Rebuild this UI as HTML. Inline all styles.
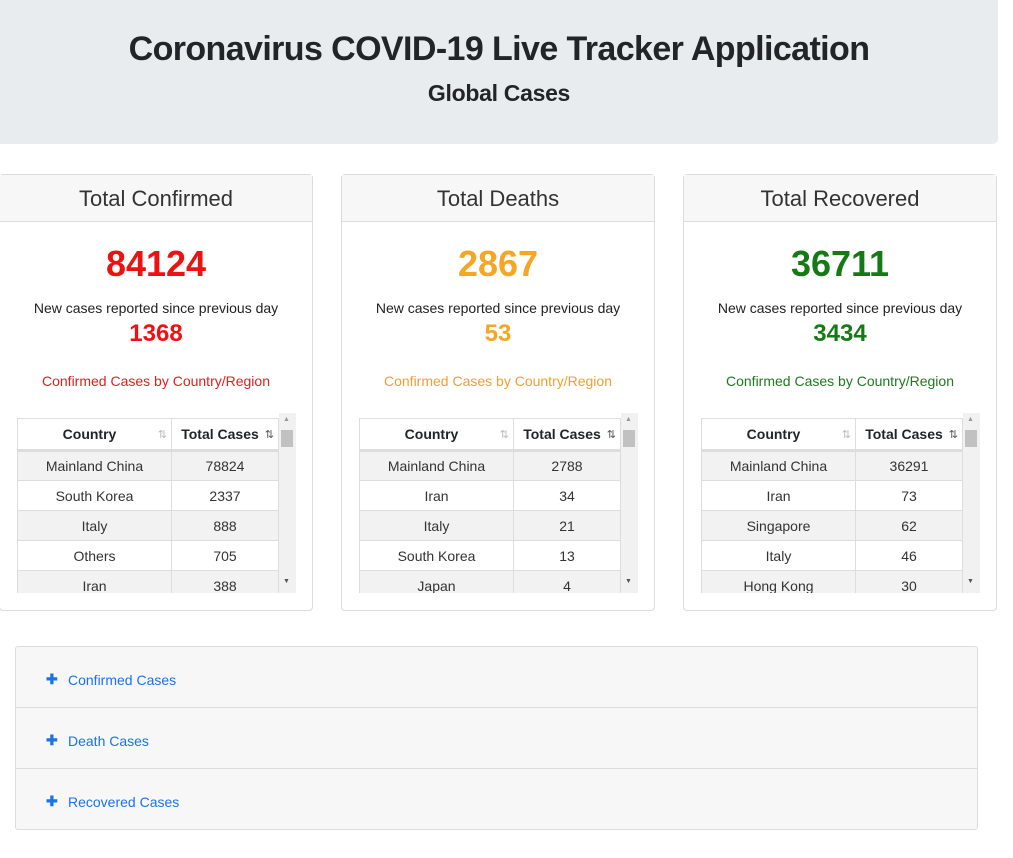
<!DOCTYPE html>
<html><head><meta charset="utf-8">
<style>
*{box-sizing:border-box;margin:0;padding:0}
body{width:1013px;height:858px;overflow:hidden;background:#fff;font-family:"Liberation Sans",sans-serif;color:#212529;position:relative}
.abs{position:absolute}
#hdr{left:0;top:0;width:998px;height:144px;background:#e9ecef;border-radius:0 0 5px 0}
#title{left:0;width:998px;top:30px;text-align:center;font-size:34px;font-weight:bold;letter-spacing:-0.6px;white-space:nowrap}
#sub{left:0;width:998px;top:80px;text-align:center;font-size:23px;font-weight:bold;letter-spacing:-0.3px}
.card{top:174px;width:314px;height:437px;border:1px solid #dcdcdc;border-radius:4px;background:#fff}
.ch{height:47px;background:#f7f7f7;border-bottom:1px solid #dcdcdc;text-align:center;font-size:22px;line-height:47px;color:#333}
.big{left:0;width:100%;top:68px;text-align:center;font-size:36px;font-weight:bold}
.nc{left:0;width:100%;top:125px;text-align:center;font-size:14px;color:#222}
.sm{left:0;width:100%;top:145px;text-align:center;font-size:24px;font-weight:bold}
.lk{left:0;width:100%;top:198px;text-align:center;font-size:14px}
.tw{left:17px;top:238px;width:279px;height:180px;overflow:hidden}
table{border-collapse:collapse;width:261px;table-layout:fixed;font-size:14px}
th{height:32px;border:1px solid #ddd;border-bottom:3px solid #ddd;font-weight:bold;background:#fff;position:relative;font-size:14px;padding-right:10px}
td{height:30px;border:1px solid #ddd;text-align:center;color:#333}
tr.odd td{background:#f2f2f2}
.arr{position:absolute;right:4px;top:9px;font-size:11px;color:#bbb;font-weight:normal}
.sb{right:0;top:0;width:17px;height:180px;background:#f1f1f1}
.thumb{left:2px;top:17px;width:12px;height:17px;background:#c1c1c1}
#acc{left:15px;top:646px;width:963px;height:184px;border:1px solid #ddd;border-radius:3px;background:#f7f7f7}
.ar{height:61px;border-bottom:1px solid #ddd;position:relative}
.ar:last-child{border-bottom:none}
.ar span{position:absolute;top:25px;font-size:14px;color:#1a73e8}
.ar b{position:absolute;left:30px;top:24px;font-size:14px;color:#1a73e8}
</style></head><body>
<div id="hdr" class="abs"></div>
<div id="title" class="abs">Coronavirus COVID-19 Live Tracker Application</div>
<div id="sub" class="abs">Global Cases</div>
<div id="cards"></div>
<div id="acc" class="abs">
 <div class="ar"><b>✚</b><span style="left:52px">Confirmed Cases</span></div>
 <div class="ar"><b>✚</b><span style="left:52px">Death Cases</span></div>
 <div class="ar"><b>✚</b><span style="left:52px">Recovered Cases</span></div>
</div>
<script>
const cardTitles=["Total Confirmed","Total Deaths","Total Recovered"];
const totals=[84124,2867,36711];
const newCases=[1368,53,3434];
const confirmedCountries=["Mainland China","South Korea","Italy","Others","Iran"];
const confirmedValues=[78824,2337,888,705,388];
const deathCountries=["Mainland China","Iran","Italy","South Korea","Japan"];
const deathValues=[2788,34,21,13,4];
const recoveredCountries=["Mainland China","Iran","Singapore","Italy","Hong Kong"];
const recoveredValues=[36291,73,62,46,30];
const colors=["#ee1111","#f5a623","#157a15"];
const lkColors=["#e02020","#f0a030","#1e7a1e"];
const lefts=[-1,341,683];
const names=["confirmed","deaths","recovered"];
const countries=[confirmedCountries,deathCountries,recoveredCountries];
const values=[confirmedValues,deathValues,recoveredValues];
const root=document.getElementById('cards');
for(let i=0;i<3;i++){
 const c=document.createElement('div');
 c.className='card abs';c.style.left=lefts[i]+'px';
 
 
 let rows='';
 for(let r=0;r<countries[i].length;r++){
  rows+=`<tr class="${r%2==0?'odd':''}"><td>${countries[i][r]}</td><td>${values[i][r]}</td></tr>`;
 }
 c.innerHTML=`<div class="ch">${cardTitles[i]}</div>
 <div class="big abs" style="color:${colors[i]}">${totals[i]}</div>
 <div class="nc abs">New cases reported since previous day</div>
 <div class="sm abs" style="color:${colors[i]}">${newCases[i]}</div>
 <div class="lk abs" style="color:${lkColors[i]}">Confirmed Cases by Country/Region</div>
 <div class="tw abs">
  <table style="margin-top:5px"><colgroup><col style="width:154px"><col style="width:107px"></colgroup>
  <tr><th>Country<span class="arr">⇅</span></th><th>Total Cases<span class="arr" style="color:#555">⇅</span></th></tr>
  ${rows}</table>
  <div class="sb abs"><div class="abs" style="left:4px;top:3px;font-size:7px;color:#999">▲</div><div class="thumb abs"></div><div class="abs" style="left:4px;top:165px;font-size:7px;color:#555">▼</div></div>
 </div>`;
 root.appendChild(c);
}
</script>
</body></html>
